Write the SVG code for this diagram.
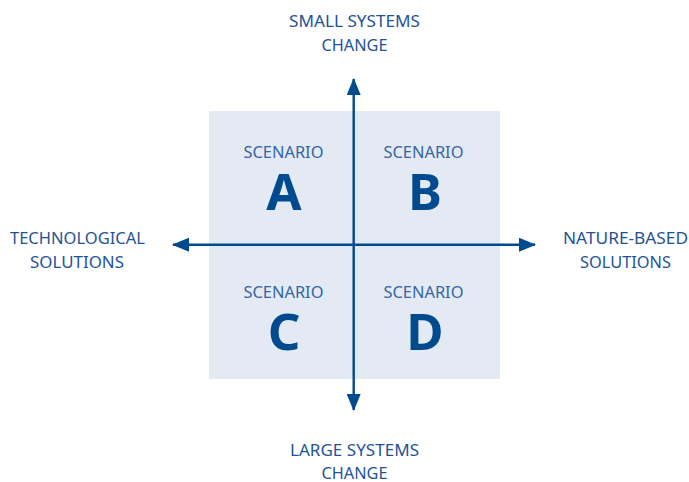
<svg xmlns="http://www.w3.org/2000/svg" width="689" height="482" viewBox="0 0 689 482">
<style>
.lbl{font-family:"Source Sans Pro","Noto Sans","Liberation Sans",sans-serif;font-size:16px;fill:#1f5396;text-anchor:middle}
.sc{font-family:"Source Sans Pro","Noto Sans","Liberation Sans",sans-serif;font-size:16.5px;fill:#3565a3;text-anchor:middle}
.big{font-family:"Source Sans Pro","Noto Sans","Liberation Sans",sans-serif;font-size:51px;font-weight:bold;fill:#004a8f;text-anchor:middle}
.ax{stroke:#004a8f;stroke-width:2.4;fill:none}
</style>
<defs>
<marker id="ah" markerWidth="17" markerHeight="14" refX="16" refY="7" orient="auto" markerUnits="userSpaceOnUse">
<path d="M0,0 L17,7 L0,14 Z" fill="#004a8f"/>
</marker>
</defs>
<rect id="bg" x="209" y="111" width="291" height="268" fill="#e4eaf3"/>
<g id="scenario-a"><text class="sc" x="283.5" y="158" textLength="80" lengthAdjust="spacingAndGlyphs">SCENARIO</text><text class="big" x="284" y="209.5">A</text></g>
<g id="scenario-b"><text class="sc" x="423.5" y="158" textLength="80" lengthAdjust="spacingAndGlyphs">SCENARIO</text><text class="big" x="425" y="209.5">B</text></g>
<g id="scenario-c"><text class="sc" x="283.5" y="298" textLength="80" lengthAdjust="spacingAndGlyphs">SCENARIO</text><text class="big" x="284" y="349.5">C</text></g>
<g id="scenario-d"><text class="sc" x="423.5" y="298" textLength="80" lengthAdjust="spacingAndGlyphs">SCENARIO</text><text class="big" x="425" y="349.5">D</text></g>
<g id="connectors">
<line class="ax" x1="353.7" y1="244.7" x2="353.7" y2="79" marker-end="url(#ah)"/>
<line class="ax" x1="353.7" y1="244.7" x2="353.7" y2="410" marker-end="url(#ah)"/>
<line class="ax" x1="353.7" y1="244.7" x2="173" y2="244.7" marker-end="url(#ah)"/>
<line class="ax" x1="353.7" y1="244.7" x2="535" y2="244.7" marker-end="url(#ah)"/>
</g>
<g id="top-label"><text class="lbl" x="354.5" y="27" textLength="131" lengthAdjust="spacingAndGlyphs">SMALL SYSTEMS</text><text class="lbl" x="354.5" y="51" textLength="66" lengthAdjust="spacingAndGlyphs">CHANGE</text></g>
<g id="bottom-label"><text class="lbl" x="354.5" y="455.5" textLength="129" lengthAdjust="spacingAndGlyphs">LARGE SYSTEMS</text><text class="lbl" x="354.5" y="478.5" textLength="66" lengthAdjust="spacingAndGlyphs">CHANGE</text></g>
<g id="left-label"><text class="lbl" x="77.5" y="244" textLength="135" lengthAdjust="spacingAndGlyphs">TECHNOLOGICAL</text><text class="lbl" x="77" y="268" textLength="94" lengthAdjust="spacingAndGlyphs">SOLUTIONS</text></g>
<g id="right-label"><text class="lbl" x="625.5" y="244" textLength="125" lengthAdjust="spacingAndGlyphs">NATURE-BASED</text><text class="lbl" x="625.5" y="268" textLength="91" lengthAdjust="spacingAndGlyphs">SOLUTIONS</text></g>
</svg>
